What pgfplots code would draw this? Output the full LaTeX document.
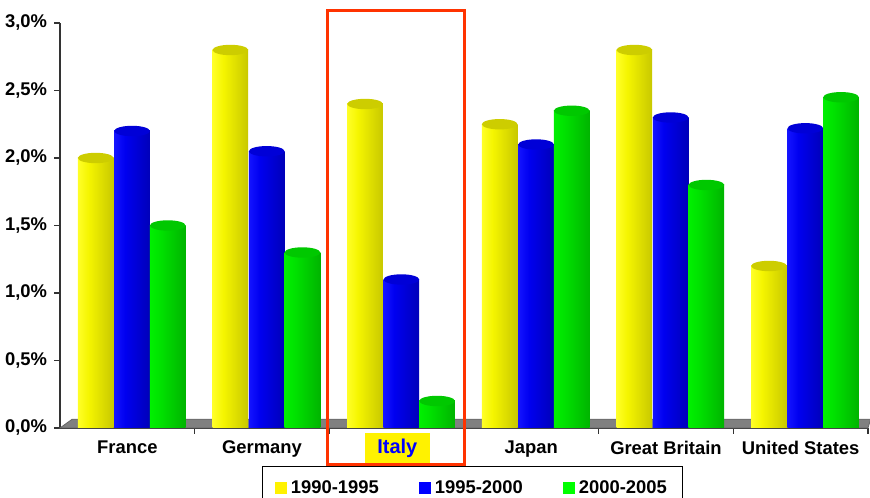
\documentclass[border=0pt]{standalone}
\usepackage{pgfplots}
\pgfplotsset{compat=1.18}
\usepackage{pgfplotstable}
\usepackage{fontspec}
\setmainfont{Liberation Sans}
\definecolor{yL}{RGB}{255,255,40}
\definecolor{yM}{RGB}{245,245,0}
\definecolor{yD}{RGB}{200,200,0}
\definecolor{yT}{RGB}{205,205,0}
\definecolor{bL}{RGB}{20,20,255}
\definecolor{bM}{RGB}{0,0,240}
\definecolor{bD}{RGB}{0,0,185}
\definecolor{bT}{RGB}{0,0,215}
\definecolor{gL}{RGB}{0,240,0}
\definecolor{gM}{RGB}{0,225,0}
\definecolor{gD}{RGB}{0,180,0}
\definecolor{gT}{RGB}{0,200,0}
\definecolor{frame}{RGB}{255,51,0}
\pgfdeclarehorizontalshading{cylY}{100bp}{color(0bp)=(yL); color(25bp)=(yL); color(40bp)=(yM); color(75bp)=(yD); color(100bp)=(yD)}
\pgfdeclarehorizontalshading{cylB}{100bp}{color(0bp)=(bL); color(25bp)=(bL); color(40bp)=(bM); color(75bp)=(bD); color(100bp)=(bD)}
\pgfdeclarehorizontalshading{cylG}{100bp}{color(0bp)=(gL); color(25bp)=(gL); color(40bp)=(gM); color(75bp)=(gD); color(100bp)=(gD)}
\pgfdeclareplotmark{cyltop}{\pgfpathellipse{\pgfpointorigin}{\pgfqpoint{8.9pt}{0pt}}{\pgfqpoint{0pt}{2.6pt}}\pgfusepathqfill}
\pgfplotstableread{
x a b c
0 2.0 2.2 1.5
1 2.8 2.05 1.3
2 2.4 1.1 0.2
3 2.25 2.1 2.35
4 2.8 2.3 1.8
5 1.2 2.22 2.45
}\data
\begin{document}
\begin{tikzpicture}
\begin{axis}[
  name=ax, scale only axis, width=404pt, height=202.5pt,
  xmin=-0.5, xmax=5.5, ymin=0, ymax=3, clip=false,
  axis x line*=bottom, axis y line*=left,
  axis line style={black!80, line width=0.7pt, -},
  tick align=outside,
  xtick={0,...,5},
  xticklabels={France,Germany,{},Japan,Great Britain,United States},
  major x tick style={draw=none},
  minor xtick={0.5,1.5,...,5.5},
  minor tick length=3pt, major tick length=3pt,
  tick style={black!80, line width=0.7pt},
  ytick={0,0.5,...,3},
  yticklabels={{0,0\%},{0,5\%},{1,0\%},{1,5\%},{2,0\%},{2,5\%},{3,0\%}},
  ticklabel style={font=\fontsize{9.2}{11}\selectfont\bfseries},
  legend image code/.code={\fill[#1] (0pt,-3pt) rectangle (6pt,3pt);},
  legend columns=3,
  legend style={at={(0.511,-0.094)}, anchor=north, draw=black, line width=0.5pt,
    font=\fontsize{9.2}{11}\selectfont\bfseries, inner xsep=6pt, inner ysep=5pt,
    /tikz/every even column/.append style={column sep=18pt}},
]
\fill[gray, draw=black!60] (axis cs:-0.5,0) -- (axis cs:-0.41,0.065) -- (axis cs:5.52,0.065) -- (axis cs:5.5,0) -- cycle;
\pgfplotsinvokeforeach{-0.5:0.5,0.5:1.5,1.5:2.5,2.5:3.5,3.5:4.5,4.5:5.5}{
\addplot[ybar, bar width=0.265, bar shift=0pt, draw=none, shade, shading=cylY, forget plot, restrict x to domain=#1] table[x expr=\thisrow{x}-0.235, y=a]{\data};
\addplot[ybar, bar width=0.265, bar shift=0pt, draw=none, shade, shading=cylB, forget plot, restrict x to domain=#1] table[x expr=\thisrow{x}+0.035, y=b]{\data};
\addplot[ybar, bar width=0.265, bar shift=0pt, draw=none, shade, shading=cylG, forget plot, restrict x to domain=#1] table[x expr=\thisrow{x}+0.30, y=c]{\data};
}
\addplot[only marks, mark=cyltop, mark options={fill=yT, draw=none}, forget plot] table[x expr=\thisrow{x}-0.235, y=a]{\data};
\addplot[only marks, mark=cyltop, mark options={fill=bT, draw=none}, forget plot] table[x expr=\thisrow{x}+0.035, y=b]{\data};
\addplot[only marks, mark=cyltop, mark options={fill=gT, draw=none}, forget plot] table[x expr=\thisrow{x}+0.30, y=c]{\data};
\addlegendimage{fill=yellow, draw=none}\addlegendentry{1990-1995}
\addlegendimage{fill=blue, draw=none}\addlegendentry{1995-2000}
\addlegendimage{fill=green, draw=none}\addlegendentry{2000-2005}
\draw[frame, line width=1.5pt] (axis cs:1.483,-0.274) rectangle (axis cs:2.507,3.096);
\node[fill=yellow, text=blue, font=\fontsize{10}{12}\selectfont\bfseries, minimum width=32.5pt, minimum height=15pt, inner sep=0pt] at (axis cs:2.005,-0.148) {Italy};
\coordinate (bbSW) at (rel axis cs:-0.0743,-0.1728);
\coordinate (bbNE) at (rel axis cs:1.0025,1.0568);
\end{axis}
\pgfresetboundingbox
\useasboundingbox (bbSW) rectangle (bbNE);
\end{tikzpicture}
\end{document}
